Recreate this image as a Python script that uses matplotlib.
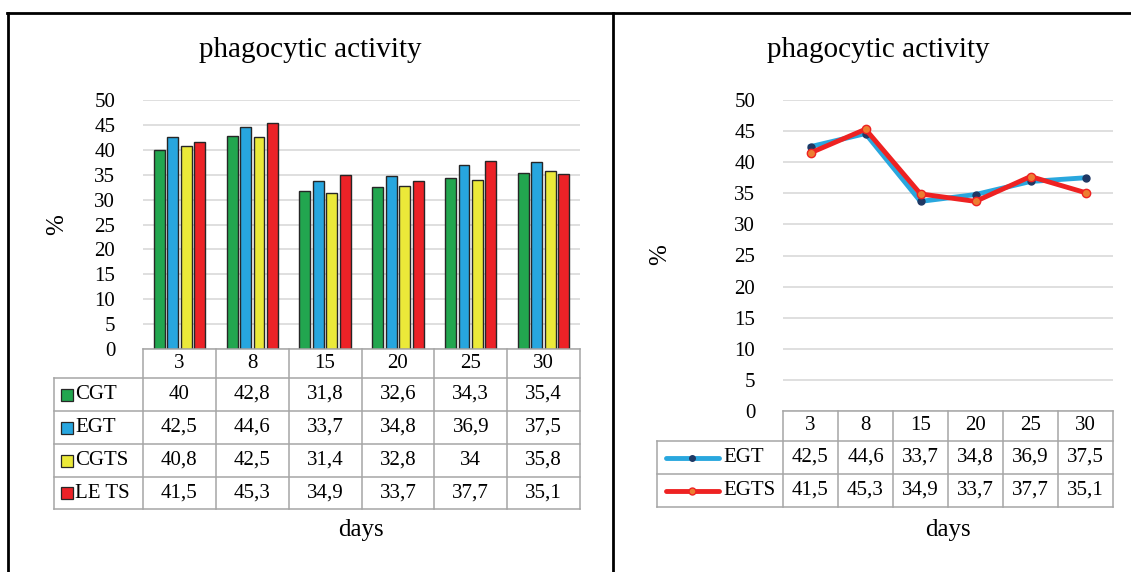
import numpy as np
import matplotlib.pyplot as plt
import matplotlib.transforms as mtransforms
from matplotlib.lines import Line2D

plt.rcParams['font.family'] = ['Liberation Serif', 'DejaVu Serif']

# data
days = ['3', '8', '15', '20', '25', '30']
cgt = [40, 42.8, 31.8, 32.6, 34.3, 35.4]
egt = [42.5, 44.6, 33.7, 34.8, 36.9, 37.5]
cgts = [40.8, 42.5, 31.4, 32.8, 34, 35.8]
le_ts = [41.5, 45.3, 34.9, 33.7, 37.7, 35.1]
egts = [41.5, 45.3, 34.9, 33.7, 37.7, 35.1]
bar_names = ['CGT', 'EGT', 'CGTS', 'LE TS']
line_names = ['EGT', 'EGTS']
yticks = list(range(0, 51, 5))

bar_series = [cgt, egt, cgts, le_ts]
bar_colors = ['#22a64f', '#27a6df', '#ebe939', '#ec2227']
line_series = [egt, egts]

W, H = 1131, 572
fig = plt.figure(figsize=(W / 100, H / 100), dpi=100)


def fx(px):
    return px / W


def fy(py):
    return 1 - py / H


def fmt(v):
    return f"{v:g}".replace('.', ',')


def style_axes(ax):
    ax.set_xlim(-0.5, len(days) - 0.5)
    ax.set_ylim(0, 50)
    ax.set_yticks(yticks)
    ax.set_xticks([])
    for s in ax.spines.values():
        s.set_visible(False)
    ax.tick_params(axis='y', length=0, pad=20, labelsize=15)
    ax.grid(axis='y', color='#d9d9d9', lw=1.2)
    ax.set_axisbelow(True)


def draw_table(ax, left_px, row_edges, names, series, draw_key):
    # row_edges: figure pixel y of header top, header bottom, then each row bottom
    tr = mtransforms.blended_transform_factory(ax.transData, fig.transFigure)
    inv = ax.transData.inverted()
    x_left = inv.transform(fig.transFigure.transform((fx(left_px), 0)))[0]
    n = len(days)
    xe = np.arange(n + 1) - 0.5
    kw = dict(color='#a6a6a6', lw=1.1, transform=tr, clip_on=False)
    # header row
    ys = [fy(y) for y in row_edges]
    fig.add_artist(Line2D([xe[0], xe[-1]], [ys[0], ys[0]], **kw))
    for x in xe:
        fig.add_artist(Line2D([x, x], [ys[0], ys[-1]], **kw))
    fig.add_artist(Line2D([x_left, x_left], [ys[1], ys[-1]], **kw))
    for y in ys[1:]:
        fig.add_artist(Line2D([x_left, xe[-1]], [y, y], **kw))
    for i, d in enumerate(days):
        fig.text(i, (ys[0] + ys[1]) / 2, d, transform=tr, ha='center',
                 va='center', fontsize=15)
    for r, (name, vals) in enumerate(zip(names, series)):
        yc = (ys[r + 1] + ys[r + 2]) / 2
        for i, v in enumerate(vals):
            fig.text(i, yc, fmt(v), transform=tr, ha='center', va='center',
                     fontsize=15)
        draw_key(r, yc, name)


# ---------- left: bar chart ----------
ax1 = fig.add_axes([fx(143), fy(349), (580 - 143) / W, (349 - 100) / H])
style_axes(ax1)
x = np.arange(len(days))
bw = 0.15
pitch = 0.185
for k, (vals, c) in enumerate(zip(bar_series, bar_colors)):
    ax1.bar(x + (k - 1.5) * pitch, vals, width=bw, color=c,
            edgecolor='#262626', lw=1.0, zorder=3)


def bar_key(r, yc, name):
    fig.add_artist(Line2D([fx(67)], [yc], marker='s', ms=8,
                          mfc=bar_colors[r], mec='#262626', mew=0.9,
                          transform=fig.transFigure))
    fig.text(fx(75), yc, name, ha='left', va='center', fontsize=15)


draw_table(ax1, 54, [349, 378, 411, 444, 477, 509], bar_names, bar_series, bar_key)

fig.text(fx(310), fy(50), 'phagocytic activity', ha='center', va='center', fontsize=21)
fig.text(fx(361), fy(530), 'days', ha='center', va='center', fontsize=18)
fig.text(fx(57), fy(225), '%', ha='center', va='center', rotation=90, fontsize=18)

# ---------- right: line chart ----------
ax2 = fig.add_axes([fx(783), fy(411), (1113 - 783) / W, (411 - 100) / H])
style_axes(ax2)
line_styles = [
    dict(color='#29a7de', lw=3.5, marker='o', ms=5, mfc='#1f3864', mec='#1f3864'),
    dict(color='#ee2222', lw=3.5, marker='o', ms=6, mfc='#ed7d31', mec='#ee2222', mew=1),
]
for vals, st in zip(line_series, line_styles):
    ax2.plot(x, vals, zorder=3, **st)


def line_key(r, yc, name):
    st = line_styles[r]
    fig.add_artist(Line2D([fx(666), fx(719)], [yc, yc], color=st['color'],
                          lw=st['lw'], solid_capstyle='round',
                          transform=fig.transFigure))
    fig.add_artist(Line2D([fx(692)], [yc], marker='o', ms=st['ms'] - 1,
                          mfc=st['mfc'], mec=st['mec'], lw=0,
                          transform=fig.transFigure))
    fig.text(fx(723), yc, name, ha='left', va='center', fontsize=15)


draw_table(ax2, 657, [411, 441, 474, 507], line_names, line_series, line_key)

fig.text(fx(878), fy(50), 'phagocytic activity', ha='center', va='center', fontsize=21)
fig.text(fx(948), fy(530), 'days', ha='center', va='center', fontsize=18)
fig.text(fx(660), fy(255), '%', ha='center', va='center', rotation=90, fontsize=18)

# panel borders
bk = dict(color='black', lw=2, transform=fig.transFigure)
fig.add_artist(Line2D([fx(7), 1], [fy(13), fy(13)], **bk))
fig.add_artist(Line2D([fx(8), fx(8)], [fy(13), 0], **bk))
fig.add_artist(Line2D([fx(613), fx(613)], [fy(13), 0], **bk))

fig.savefig('out.png', dpi=100)
